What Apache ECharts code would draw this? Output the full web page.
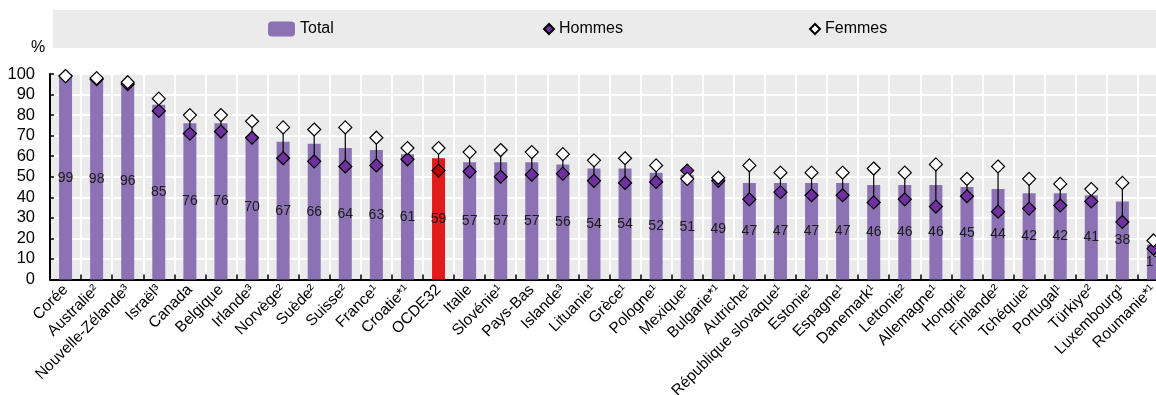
<!DOCTYPE html>
<html><head><meta charset="utf-8">
<script src="https://cdn.jsdelivr.net/npm/echarts@6/dist/echarts.min.js"></script>
<style>html,body{margin:0;padding:0;background:#fff}#c{width:1156px;height:395px}</style>
</head><body><div id="c"></div>
<script>
const categories = ["Corée","Australie²","Nouvelle-Zélande³","Israël³","Canada","Belgique","Irlande³","Norvège²","Suède²","Suisse²","France¹","Croatie*¹","OCDE32","Italie","Slovénie¹","Pays-Bas","Islande³","Lituanie¹","Grèce¹","Pologne¹","Mexique¹","Bulgarie*¹","Autriche¹","République slovaque¹","Estonie¹","Espagne¹","Danemark¹","Lettonie²","Allemagne¹","Hongrie¹","Finlande²","Tchéquie¹","Portugal¹","Türkiye²","Luxembourg¹","Roumanie*¹"];
const total = [99,98,96,85,76,76,70,67,66,64,63,61,59,57,57,57,56,54,54,52,51,49,47,47,47,47,46,46,46,45,44,42,42,41,38,17];
const hommes = [99,97.5,95,82,71,72,69,59,57.5,55,55.5,58.5,53,52.5,50,51,51.5,48,47,47.5,53,48,39,42.5,41,41,37.5,39,35.5,40.5,33,34.5,36,38,28,15];
const femmes = [99,98,96,88,80,80,77,74,73,74,69,64,64,62,63,62,61,58,59,55.5,49,49.5,55.5,52,52,52,54,52,56,49,55,49,46.5,44,47,19];
const yTicks = [0,10,20,30,40,50,60,70,80,90,100];
const highlight = "OCDE32";

const FONT = "'Liberation Sans Narrow','Arial Narrow','Liberation Sans',Arial,sans-serif";
const BAR = '#8c72b5', RED = '#e31a1c', HOM = '#7030a0', HOM_RED = '#c00000';

const chart = echarts.init(document.getElementById('c'), null, {renderer:'canvas'});
chart.setOption({
  animation:false,
  textStyle:{fontFamily:FONT},
  graphic:[
    {type:'rect', shape:{x:53,y:10,width:1110,height:38}, style:{fill:'#ebebeb'}, z:-10},
    {type:'text', left:31, top:40, style:{text:'%', font:'16px '+FONT, fill:'#000'}}
  ],
  legend:[
    {data:['Total'], left:263, top:16, itemWidth:27, itemHeight:15, itemGap:0,
     textStyle:{fontSize:16, fontFamily:FONT, color:'#000'}},
    {data:['Hommes'], left:538, top:16, itemWidth:10, itemHeight:10, itemGap:0,
     textStyle:{fontSize:16, fontFamily:FONT, color:'#000'}},
    {data:['Femmes'], left:804, top:16, itemWidth:10, itemHeight:10, itemGap:0,
     textStyle:{fontSize:16, fontFamily:FONT, color:'#000'}}
  ],
  grid:{left:50, right:-13, top:74, bottom:115.5, show:true, backgroundColor:'#ebebeb', borderWidth:0,
        containLabel:false, outerBoundsMode:'none'},
  xAxis:{
    type:'category', data:categories, boundaryGap:true,
    axisLine:{lineStyle:{color:'#000', width:2}},
    axisTick:{show:true, inside:true, length:5, lineStyle:{color:'#000', width:1.5}},
    splitLine:{show:true, lineStyle:{color:'#fff', width:2}},
    axisLabel:{interval:0, rotate:45, fontSize:15.5, fontFamily:FONT, color:'#000', margin:8}
  },
  yAxis:{
    type:'value', min:yTicks[0], max:yTicks[yTicks.length-1], interval:10,
    axisLine:{show:true, lineStyle:{color:'#000', width:2}},
    axisTick:{show:true, inside:true, length:4, lineStyle:{color:'#000', width:1.5}},
    splitLine:{show:true, lineStyle:{color:'#fff', width:2}},
    axisLabel:{fontSize:16.5, fontFamily:FONT, color:'#000', margin:15}
  },
  series:[
    {name:'Total', type:'bar', barWidth:13, itemStyle:{color:BAR},
     data: total.map((v,i)=> categories[i]===highlight ? {value:v, itemStyle:{color:RED}} : v),
     label:{show:true, position:'inside', fontSize:14, fontFamily:FONT, color:'#1a1a1a'}, z:2},
    {name:'range', type:'custom', z:3,
     data: categories.map((c,i)=>[i, hommes[i], femmes[i]]),
     encode:{x:0, y:[1,2]},
     renderItem:(params, api)=>{
       const i = api.value(0);
       const p1 = api.coord([i, api.value(1)]);
       const p2 = api.coord([i, api.value(2)]);
       return {type:'line', shape:{x1:p1[0],y1:p1[1],x2:p2[0],y2:p2[1]}, style:{stroke:'#000', lineWidth:1.2}};
     }},
    {name:'Hommes', type:'scatter', symbol:'diamond', symbolSize:13, z:4,
     itemStyle:{color:HOM, borderColor:'#000', borderWidth:1.2, opacity:1},
     data: hommes.map((v,i)=> categories[i]===highlight ? {value:v, itemStyle:{color:HOM_RED}} : v)},
    {name:'Femmes', type:'scatter', symbol:'diamond', symbolSize:13, z:5,
     itemStyle:{color:'#fff', borderColor:'#000', borderWidth:1.2, opacity:1},
     data: femmes}
  ]
});
</script></body></html>
